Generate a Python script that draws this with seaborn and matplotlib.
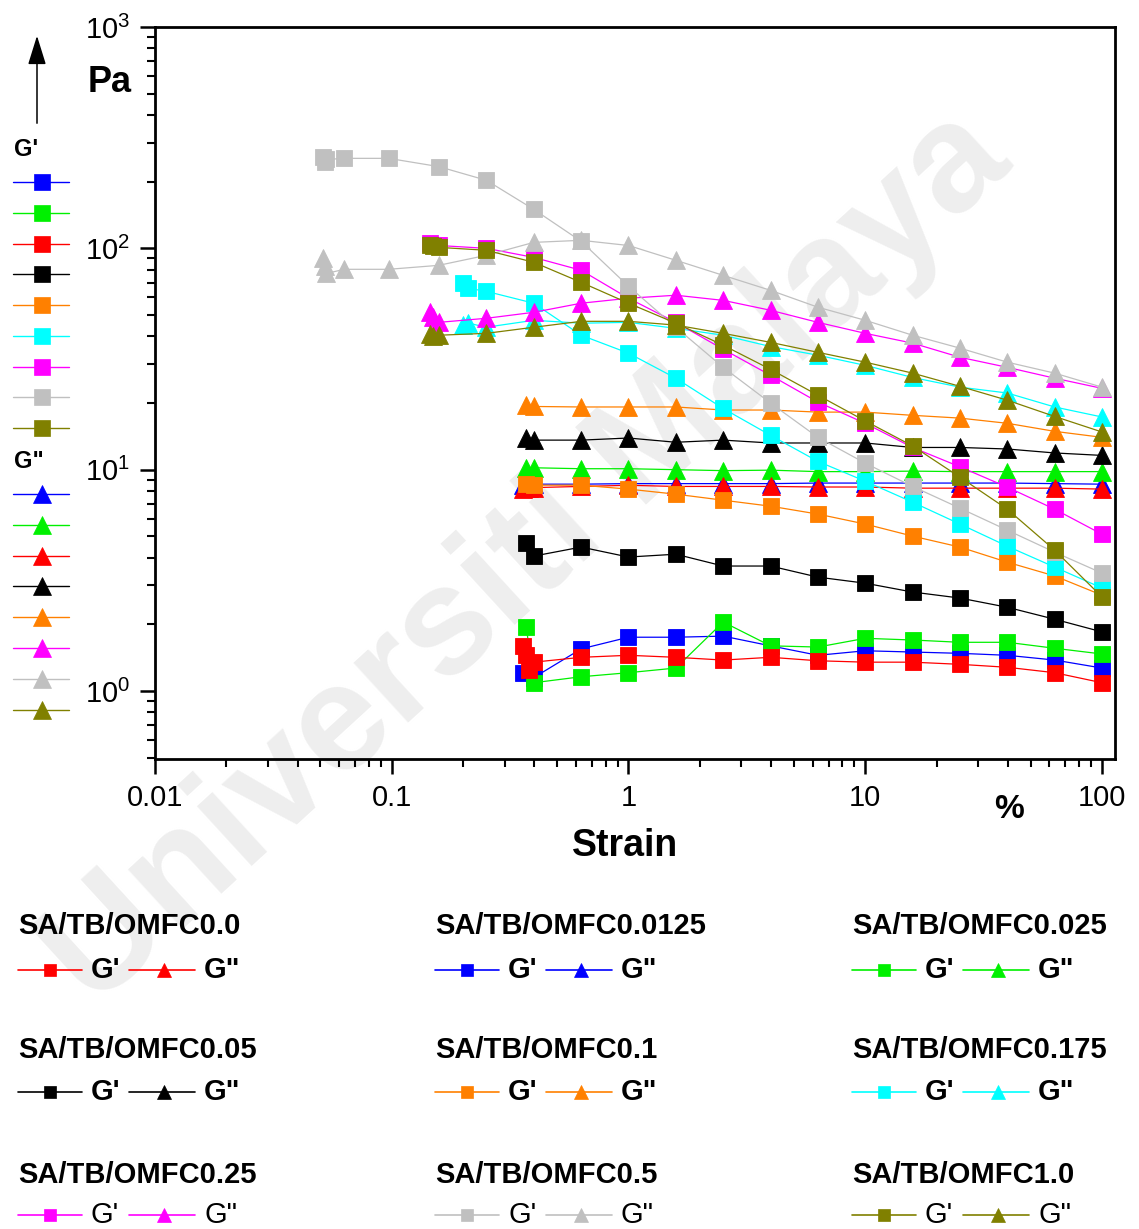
import numpy as np
import pandas as pd
import matplotlib
matplotlib.use("Agg")
import matplotlib.pyplot as plt
from matplotlib.ticker import LogLocator, LogFormatterSciNotation, NullFormatter, FixedLocator, FixedFormatter
import seaborn as sns

# ---------------------------------------------------------------- data
# strain points (%) common to every sweep from 0.4 % upward
strain_tail = [0.398, 0.631, 1.0, 1.585, 2.512, 3.981, 6.31, 10.0, 15.85, 25.12, 39.81, 63.1, 100.0]

# SA/TB/OMFC0.0
strain_head_000 = [0.36, 0.37, 0.38]
gp_000 = [1.6, 1.45, 1.25, 1.35, 1.42, 1.45, 1.42, 1.38, 1.42, 1.37, 1.35, 1.35, 1.32, 1.28, 1.21, 1.09]
gpp_000 = [8.2, 8.3, 8.3, 8.3, 8.4, 8.5, 8.4, 8.4, 8.4, 8.35, 8.35, 8.25, 8.25, 8.25, 8.25, 8.17]

# SA/TB/OMFC0.0125
strain_head_0125 = [0.36]
gp_0125 = [1.2, 1.15, 1.55, 1.75, 1.75, 1.77, 1.60, 1.45, 1.52, 1.50, 1.48, 1.45, 1.38, 1.27]
gpp_0125 = [8.5, 8.6, 8.6, 8.65, 8.65, 8.65, 8.65, 8.7, 8.7, 8.7, 8.7, 8.7, 8.65, 8.6]

# SA/TB/OMFC0.025
strain_head_025 = [0.37]
gp_025 = [1.95, 1.09, 1.16, 1.21, 1.27, 2.05, 1.60, 1.58, 1.73, 1.70, 1.66, 1.66, 1.56, 1.47]
gpp_025 = [10.2, 10.2, 10.1, 10.1, 10.0, 9.9, 9.95, 9.8, 9.8, 9.85, 9.8, 9.8, 9.8, 9.8]

# SA/TB/OMFC0.05
strain_head_05 = [0.37]
gp_05 = [4.66, 4.07, 4.47, 4.03, 4.15, 3.67, 3.67, 3.27, 3.07, 2.80, 2.63, 2.39, 2.11, 1.85]
gpp_05 = [13.9, 13.6, 13.6, 13.9, 13.3, 13.6, 13.2, 13.2, 13.2, 12.6, 12.6, 12.4, 11.9, 11.6]

# SA/TB/OMFC0.1
strain_head_1 = [0.37]
gp_1 = [8.6, 8.51, 8.51, 8.17, 7.75, 7.28, 6.84, 6.30, 5.68, 5.01, 4.47, 3.82, 3.31, 2.71]
gpp_1 = [19.5, 19.3, 19.2, 19.2, 19.2, 18.6, 18.6, 18.2, 18.2, 17.6, 17.1, 16.2, 14.9, 14.0]

# SA/TB/OMFC0.175
strain_head_175 = [0.20, 0.21, 0.25]
gp_175 = [69.5, 66.0, 64.0, 56.5, 40.5, 33.6, 25.9, 18.9, 14.3, 10.9, 8.87, 7.13, 5.68, 4.51, 3.63, 2.92]
gpp_175 = [45.0, 46.0, 44.0, 47.3, 45.9, 46.3, 43.5, 40.5, 36.0, 32.9, 29.6, 26.1, 23.6, 22.2, 19.2, 17.3]

# SA/TB/OMFC0.25
strain_head_25 = [0.145, 0.15, 0.158, 0.251]
gp_25 = [106, 104, 103, 100, 91, 79.6, 59.5, 46.3, 35.0, 26.7, 20.2, 16.2, 12.6, 10.3, 8.34, 6.63, 5.11]
gpp_25 = [51.4, 48.8, 46.3, 48.3, 51.4, 56.5, 59.5, 61.4, 58.2, 52.5, 46.3, 41.3, 37.3, 32.2, 29.0, 25.9, 23.3]

# SA/TB/OMFC0.5
strain_head_5 = [0.051, 0.052, 0.053, 0.063, 0.097, 0.158, 0.251]
gp_5 = [258, 245, 252, 255, 255, 234, 203, 150, 107.6, 67.4, 44.0, 29.0, 20.0, 14.0, 10.7, 8.4, 6.7, 5.33, 4.24, 3.41]
gpp_5 = [90.0, 83.0, 77.0, 80.4, 80.4, 83.8, 93.0, 106.4, 108.7, 103.0, 88.3, 75.5, 64.6, 54.2, 47.3, 40.5, 35.4, 30.6, 27.3, 23.6]

# SA/TB/OMFC1.0
strain_head_10 = [0.145, 0.15, 0.158, 0.251]
gp_10 = [103, 102, 101, 98, 86.5, 70.2, 56.5, 45.9, 36.5, 28.4, 21.7, 16.6, 12.8, 9.25, 6.63, 4.33, 2.66]
gpp_10 = [41.0, 40.0, 40.5, 41.3, 44.0, 46.8, 46.8, 45.0, 41.3, 37.6, 33.9, 30.6, 27.3, 23.8, 20.6, 17.4, 14.8]

sample_names = ["SA/TB/OMFC0.0", "SA/TB/OMFC0.0125", "SA/TB/OMFC0.025",
                "SA/TB/OMFC0.05", "SA/TB/OMFC0.1", "SA/TB/OMFC0.175",
                "SA/TB/OMFC0.25", "SA/TB/OMFC0.5", "SA/TB/OMFC1.0"]
sample_colors = ["#FF0000", "#0000FF", "#00F000", "#000000", "#FF8000",
                 "#00FFFF", "#FF00FF", "#C0C0C0", "#808000"]
sample_heads = [strain_head_000, strain_head_0125, strain_head_025, strain_head_05,
                strain_head_1, strain_head_175, strain_head_25, strain_head_5, strain_head_10]
sample_gp = [gp_000, gp_0125, gp_025, gp_05, gp_1, gp_175, gp_25, gp_5, gp_10]
sample_gpp = [gpp_000, gpp_0125, gpp_025, gpp_05, gpp_1, gpp_175, gpp_25, gpp_5, gpp_10]

# stacking order of the curves (later ones drawn on top)
draw_order = ["SA/TB/OMFC0.0125", "SA/TB/OMFC0.025", "SA/TB/OMFC0.0",
              "SA/TB/OMFC0.05", "SA/TB/OMFC0.1", "SA/TB/OMFC0.175",
              "SA/TB/OMFC0.25", "SA/TB/OMFC0.5", "SA/TB/OMFC1.0"]

x_tick_values = [0.01, 0.1, 1, 10, 100]
x_tick_labels = ["0.01", "0.1", "1", "10", "100"]

# colours listed in the side key
side_key_gp = ["#0000FF", "#00F000", "#FF0000", "#000000", "#FF8000",
               "#00FFFF", "#FF00FF", "#C0C0C0", "#808000"]
side_key_gpp = ["#0000FF", "#00F000", "#FF0000", "#000000", "#FF8000",
                "#FF00FF", "#C0C0C0", "#808000"]

rows = []
for name, head, gp, gpp in zip(sample_names, sample_heads, sample_gp, sample_gpp):
    xs = list(head) + strain_tail
    for kind, vals in (("G'", gp), ('G"', gpp)):
        for order, (xv, yv) in enumerate(zip(xs, vals)):
            rows.append({"sample": name, "kind": kind, "strain": xv,
                         "modulus": yv, "order": order})
df = pd.DataFrame(rows)
color_of = dict(zip(sample_names, sample_colors))

# ---------------------------------------------------------------- style
sns.set_style("ticks")
plt.rcParams["font.family"] = ["Liberation Sans", "DejaVu Sans"]
plt.rcParams["mathtext.default"] = "regular"
plt.rcParams["axes.linewidth"] = 2.0
for key in ("text.color", "axes.labelcolor", "xtick.color", "ytick.color", "axes.edgecolor"):
    plt.rcParams[key] = "black"

W, H = 1139, 1229
fig = plt.figure(figsize=(W / 100, H / 100), dpi=100)

# full-figure layer for key, labels and background lettering (pixel coords)
bg = fig.add_axes([0, 0, 1, 1], zorder=0)
bg.set_xlim(0, W)
bg.set_ylim(H, 0)
bg.axis("off")

bg.text(528, 560, "Universiti Malaya", rotation=42.5, fontsize=110,
        fontweight="bold", color="#EEEEEE", ha="center", va="center",
        rotation_mode="anchor", zorder=0)

ax = fig.add_axes([155 / W, 1 - 759 / H, (1115 - 155) / W, (759 - 27) / H], zorder=1)
ax.patch.set_alpha(0)
ax.set_xscale("log")
ax.set_yscale("log")

for name in draw_order:
    col = color_of[name]
    for kind, marker, ms in (("G'", "s", 11.5), ('G"', "^", 13)):
        sub = df[(df["sample"] == name) & (df["kind"] == kind)].sort_values("order")
        sns.lineplot(data=sub, x="strain", y="modulus", ax=ax, color=col,
                     marker=marker, markersize=ms, markeredgecolor=col,
                     markeredgewidth=0.6, linewidth=0.9, estimator=None,
                     sort=False, legend=False)

ax.set_xlim(0.01, 113.5)
ax.set_ylim(0.493, 1000)
ax.set_xlabel("")
ax.set_ylabel("")

ax.xaxis.set_major_locator(FixedLocator(x_tick_values))
ax.xaxis.set_major_formatter(FixedFormatter(x_tick_labels))
ax.xaxis.set_minor_locator(LogLocator(base=10, subs=np.arange(2, 10)))
ax.xaxis.set_minor_formatter(NullFormatter())
ax.yaxis.set_major_locator(LogLocator(base=10, numticks=10))
ax.yaxis.set_major_formatter(LogFormatterSciNotation())
ax.yaxis.set_minor_locator(LogLocator(base=10, subs=np.arange(2, 10), numticks=20))
ax.yaxis.set_minor_formatter(NullFormatter())

ax.tick_params(which="major", direction="out", length=11, width=1.8,
               labelsize=21, pad=7, colors="black")
ax.tick_params(which="minor", direction="out", length=6, width=1.5, colors="black")
ax.tick_params(top=False, right=False)
for sp in ax.spines.values():
    sp.set_visible(True)
    sp.set_linewidth(2.0)
    sp.set_color("black")

# axis labels
bg.text(110, 82, "Pa", fontsize=26, fontweight="bold", ha="center", va="center")
bg.text(625, 846, "Strain", fontsize=27, fontweight="bold", ha="center", va="center")
bg.text(1009, 810, "%", fontsize=24, fontweight="bold", ha="center", va="center")
bg.annotate("", xy=(37, 33), xytext=(37, 126),
            arrowprops=dict(arrowstyle="-|>,head_length=0.9,head_width=0.28",
                            color="black", lw=1.1, mutation_scale=20))

# side key
bg.text(14, 149, "G'", fontsize=17, fontweight="bold", ha="left", va="center")
for i, col in enumerate(side_key_gp):
    y = 182 + i * 30.75
    bg.plot([13, 69], [y, y], color=col, lw=1.0)
    bg.plot([42], [y], marker="s", ms=12, color=col, mec=col, mew=0.5)
bg.text(14, 462, 'G"', fontsize=17, fontweight="bold", ha="left", va="center")
for i, col in enumerate(side_key_gpp):
    y = 494 + i * 30.8
    bg.plot([13, 69], [y, y], color=col, lw=1.0)
    bg.plot([42], [y], marker="^", ms=13, color=col, mec=col, mew=0.5)

# bottom key: three columns by three rows
col_x = [18, 435, 852]
title_y = [926, 1050, 1175]
entry_y = [970, 1092, 1215]
for idx, name in enumerate(sample_names):
    r, c = divmod(idx, 3)
    x0, ty, ey = col_x[c], title_y[r], entry_y[r]
    col = color_of[name]
    bg.text(x0, ty, name, fontsize=21, fontweight="bold", ha="left", va="center")
    weight = "normal" if r == 2 else "bold"
    bg.plot([x0, x0 + 64], [ey, ey], color=col, lw=1.2)
    bg.plot([x0 + 32], [ey], marker="s", ms=8.5, color=col, mec=col, mew=0.5)
    bg.text(x0 + 73, ey, "G'", fontsize=21, fontweight=weight, ha="left", va="center")
    bg.plot([x0 + 111, x0 + 177], [ey, ey], color=col, lw=1.2)
    bg.plot([x0 + 146], [ey], marker="^", ms=10, color=col, mec=col, mew=0.5)
    bg.text(x0 + 186, ey, 'G"', fontsize=21, fontweight=weight, ha="left", va="center")

fig.savefig("out.png", dpi=100, facecolor="white")
